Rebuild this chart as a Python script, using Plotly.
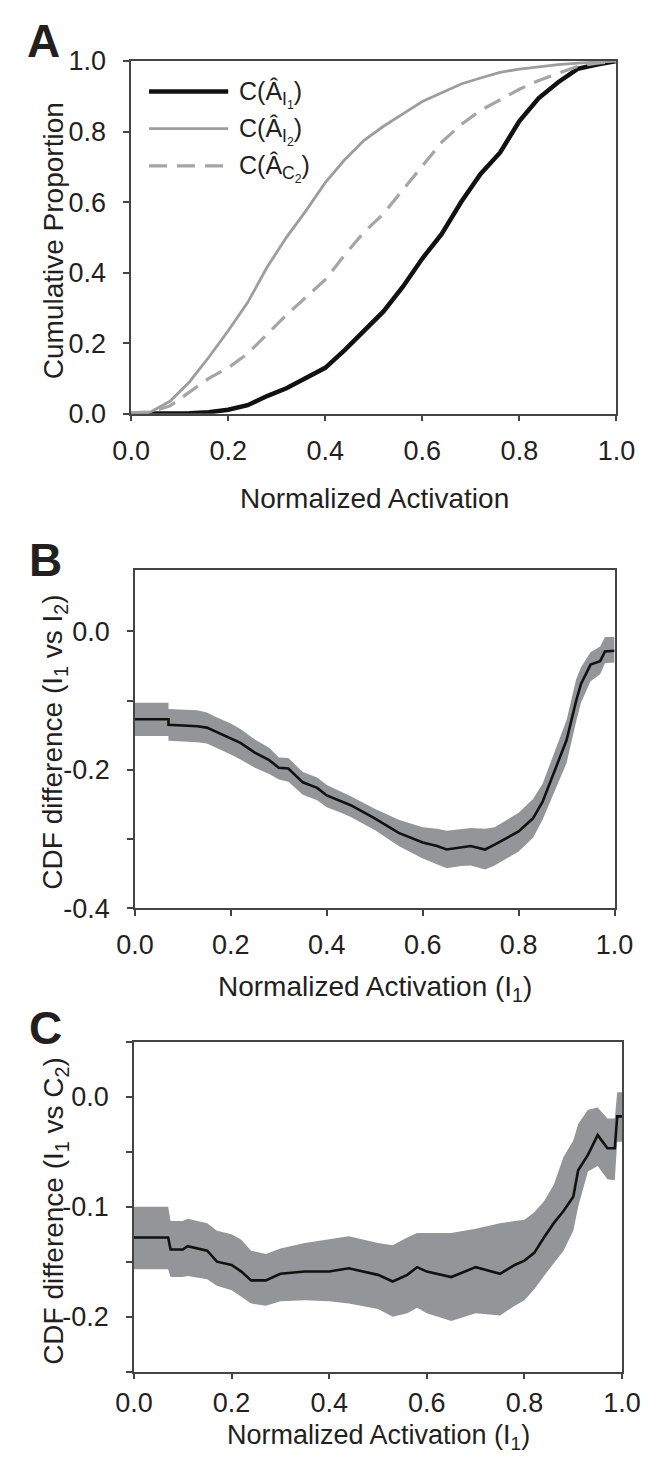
import plotly.graph_objects as go

W, H = 659, 1468

# ---------------- Panel A data (cumulative proportions) ----------------
a_x = [0, 0.04, 0.08, 0.12, 0.16, 0.2, 0.24, 0.28, 0.32, 0.36, 0.4, 0.44, 0.48,
       0.52, 0.56, 0.6, 0.64, 0.68, 0.72, 0.76, 0.8, 0.84, 0.88, 0.92, 0.96, 1.0]
cdf_I1 = [0.0, 0.0, 0.0, 0.001, 0.004, 0.011, 0.024, 0.05, 0.072, 0.1, 0.13, 0.18, 0.235,
          0.29, 0.36, 0.44, 0.51, 0.6, 0.68, 0.74, 0.83, 0.895, 0.94, 0.978, 0.99, 1.0]
cdf_I2 = [0.003, 0.005, 0.035, 0.09, 0.16, 0.235, 0.315, 0.415, 0.5, 0.575, 0.655, 0.72, 0.775,
          0.815, 0.85, 0.885, 0.91, 0.935, 0.952, 0.968, 0.977, 0.984, 0.99, 0.994, 0.997, 1.0]
cdf_C2 = [0.003, 0.004, 0.022, 0.06, 0.1, 0.13, 0.17, 0.225, 0.28, 0.33, 0.38, 0.45, 0.515,
          0.567, 0.635, 0.7, 0.77, 0.82, 0.86, 0.89, 0.92, 0.945, 0.965, 0.985, 0.994, 1.0]
a_names = ["C(Â<sub>I<sub>1</sub></sub>)", "C(Â<sub>I<sub>2</sub></sub>)",
           "C(Â<sub>C<sub>2</sub></sub>)"]

# ---------------- Panel B data (CDF difference I1 vs I2) ----------------
b_x = [0, 0.07, 0.07, 0.1, 0.13, 0.15, 0.17, 0.2, 0.22, 0.25, 0.28, 0.3, 0.32, 0.35, 0.38,
       0.4, 0.43, 0.45, 0.5, 0.55, 0.6, 0.63, 0.65, 0.68, 0.7, 0.73, 0.75, 0.8, 0.83, 0.85,
       0.88, 0.9, 0.92, 0.93, 0.95, 0.97, 0.98, 1.0]
b_mid = [-0.127, -0.127, -0.135, -0.136, -0.137, -0.139, -0.145, -0.154, -0.161, -0.175,
         -0.186, -0.197, -0.198, -0.218, -0.226, -0.237, -0.245, -0.251, -0.27, -0.291,
         -0.305, -0.31, -0.315, -0.312, -0.31, -0.315, -0.308, -0.289, -0.27, -0.246,
         -0.194, -0.157, -0.10, -0.076, -0.048, -0.043, -0.029, -0.028]
b_hi = [-0.103, -0.103, -0.112, -0.113, -0.114, -0.117, -0.124, -0.133, -0.141, -0.156,
        -0.168, -0.182, -0.183, -0.203, -0.211, -0.222, -0.231, -0.238, -0.256, -0.272,
        -0.283, -0.285, -0.288, -0.286, -0.284, -0.285, -0.283, -0.262, -0.242, -0.220,
        -0.165, -0.128, -0.069, -0.052, -0.030, -0.022, -0.008, -0.008]
b_lo = [-0.151, -0.151, -0.158, -0.159, -0.160, -0.162, -0.168, -0.178, -0.185, -0.197,
        -0.206, -0.214, -0.217, -0.236, -0.244, -0.254, -0.262, -0.268, -0.287, -0.31,
        -0.328, -0.336, -0.342, -0.339, -0.338, -0.344, -0.338, -0.318, -0.298, -0.272,
        -0.222, -0.19, -0.13, -0.103, -0.072, -0.062, -0.046, -0.045]

# ---------------- Panel C data (CDF difference I1 vs C2) ----------------
c_x = [0, 0.07, 0.075, 0.1, 0.11, 0.15, 0.17, 0.2, 0.22, 0.24, 0.27, 0.3, 0.35, 0.4, 0.44,
       0.5, 0.53, 0.56, 0.58, 0.6, 0.65, 0.7, 0.75, 0.78, 0.8, 0.82, 0.84, 0.86, 0.88, 0.9,
       0.91, 0.93, 0.95, 0.97, 0.985, 0.99, 1.0]
c_mid = [-0.128, -0.128, -0.139, -0.139, -0.136, -0.140, -0.150, -0.153, -0.159, -0.167,
         -0.167, -0.161, -0.159, -0.159, -0.156, -0.162, -0.168, -0.162, -0.155, -0.159,
         -0.164, -0.155, -0.161, -0.153, -0.149, -0.142, -0.128, -0.115, -0.104, -0.091,
         -0.067, -0.053, -0.035, -0.047, -0.047, -0.018, -0.018]
c_hi = [-0.100, -0.100, -0.113, -0.113, -0.111, -0.115, -0.122, -0.125, -0.13, -0.14,
        -0.143, -0.138, -0.133, -0.130, -0.127, -0.133, -0.135, -0.128, -0.124, -0.124,
        -0.124, -0.12, -0.115, -0.113, -0.112, -0.105, -0.095, -0.08, -0.055, -0.04,
        -0.025, -0.012, -0.01, -0.02, -0.02, 0.004, 0.004]
c_lo = [-0.157, -0.157, -0.164, -0.164, -0.163, -0.166, -0.172, -0.176, -0.182, -0.188,
        -0.19, -0.186, -0.185, -0.186, -0.188, -0.193, -0.2, -0.197, -0.192, -0.197,
        -0.204, -0.197, -0.199, -0.19, -0.185, -0.175, -0.163, -0.152, -0.14, -0.122,
        -0.1, -0.068, -0.063, -0.075, -0.076, -0.041, -0.041]

x_ticks = [0, 0.2, 0.4, 0.6, 0.8, 1.0]
x_labels = ["0.0", "0.2", "0.4", "0.6", "0.8", "1.0"]
a_yticks = [0, 0.2, 0.4, 0.6, 0.8, 1.0]
a_ylabels = ["0.0", "0.2", "0.4", "0.6", "0.8", "1.0"]
b_yticks = [-0.4, -0.2, 0.0]
b_ylabels = ["-0.4", "-0.2", "0.0"]
b_yminor = [-0.3, -0.1]
c_yticks = [-0.2, -0.1, 0.0]
c_ylabels = ["-0.2", "-0.1", "0.0"]
c_yminor = [-0.25, -0.15, -0.05, 0.05]

FONT = "Liberation Sans, Arial, sans-serif"
TXT = "#231f20"
AXC = "#444444"
BAND = "#939598"


def px(x):
    return x / W


def py(y):
    return 1 - y / H


fig = go.Figure()

# Panel A curves
fig.add_trace(go.Scatter(x=a_x, y=cdf_I1, mode="lines", name=a_names[0],
                         line=dict(color="#111111", width=4.5), xaxis="x", yaxis="y"))
fig.add_trace(go.Scatter(x=a_x, y=cdf_I2, mode="lines", name=a_names[1],
                         line=dict(color="#9d9d9d", width=2.8), xaxis="x", yaxis="y"))
fig.add_trace(go.Scatter(x=a_x, y=cdf_C2, mode="lines", name=a_names[2],
                         line=dict(color="#a5a5a5", width=3.2, dash="18px,10px"),
                         xaxis="x", yaxis="y"))

# Panel B band + line
fig.add_trace(go.Scatter(x=b_x, y=b_lo, mode="lines", line=dict(width=0, color=BAND),
                         xaxis="x2", yaxis="y2", hoverinfo="skip"))
fig.add_trace(go.Scatter(x=b_x, y=b_hi, mode="lines", line=dict(width=0, color=BAND),
                         fill="tonexty", fillcolor=BAND, xaxis="x2", yaxis="y2",
                         hoverinfo="skip"))
fig.add_trace(go.Scatter(x=b_x, y=b_mid, mode="lines", line=dict(color="#111111", width=2.6),
                         xaxis="x2", yaxis="y2"))

# Panel C band + line
fig.add_trace(go.Scatter(x=c_x, y=c_lo, mode="lines", line=dict(width=0, color=BAND),
                         xaxis="x3", yaxis="y3", hoverinfo="skip"))
fig.add_trace(go.Scatter(x=c_x, y=c_hi, mode="lines", line=dict(width=0, color=BAND),
                         fill="tonexty", fillcolor=BAND, xaxis="x3", yaxis="y3",
                         hoverinfo="skip"))
fig.add_trace(go.Scatter(x=c_x, y=c_mid, mode="lines", line=dict(color="#111111", width=2.6),
                         xaxis="x3", yaxis="y3"))

tickfont = dict(family=FONT, size=27, color=TXT)
common_ax = dict(showline=True, linecolor=AXC, linewidth=1.5, mirror=True,
                 ticks="outside", ticklen=6, tickcolor=AXC, tickwidth=1.5,
                 showgrid=False, zeroline=False, tickfont=tickfont)
minor_style = dict(ticks="outside", ticklen=6, tickcolor=AXC, tickwidth=1.5, showgrid=False)

fig.update_layout(
    width=W, height=H,
    margin=dict(l=0, r=0, t=0, b=0),
    paper_bgcolor="white", plot_bgcolor="white",
    showlegend=False,
    font=dict(family=FONT, color=TXT),
    xaxis=dict(domain=[px(119), px(634)], range=[0, 1], tickvals=x_ticks,
               ticktext=x_labels, anchor="y", ticklabelstandoff=6, **common_ax),
    yaxis=dict(domain=[py(407), py(47)], range=[0, 1], tickvals=a_yticks,
               ticktext=a_ylabels, anchor="x", ticklabelstandoff=12, **common_ax),
    xaxis2=dict(domain=[px(123), px(632)], range=[0, 1], tickvals=x_ticks,
                ticktext=x_labels, anchor="y2", ticklabelstandoff=5, **common_ax),
    yaxis2=dict(domain=[py(912), py(567)], range=[-0.4, 0.088], tickvals=b_yticks,
                ticktext=b_ylabels, anchor="x2", ticklabelstandoff=12,
                minor=dict(tickvals=b_yminor, **minor_style), **common_ax),
    xaxis3=dict(domain=[px(122), px(640)], range=[0, 1], tickvals=x_ticks,
                ticktext=x_labels, anchor="y3", ticklabelstandoff=0, **common_ax),
    yaxis3=dict(domain=[py(1385), py(1048)], range=[-0.25, 0.05], tickvals=c_yticks,
                ticktext=c_ylabels, anchor="x3", ticklabelstandoff=12,
                minor=dict(tickvals=c_yminor, **minor_style), **common_ax),
)

ann = []


def label(text, x, y, size, bold=False, angle=0, xanchor="center", yanchor="middle"):
    ann.append(dict(text=f"<b>{text}</b>" if bold else text, x=px(x), y=py(y),
                    xref="paper", yref="paper", showarrow=False, textangle=angle,
                    xanchor=xanchor, yanchor=yanchor,
                    font=dict(family=FONT, size=size, color=TXT)))


# panel letters
label("A", 26, 27, 46, bold=True)
label("B", 28, 556, 46, bold=True)
label("C", 28, 1034, 46, bold=True)

# axis titles
label("Cumulative Proportion", 36, 230, 28, angle=-90)
label("Normalized Activation", 377, 494, 28)
label("CDF difference (I<sub>1</sub> vs I<sub>2</sub>)", 38, 742, 28, angle=-90)
label("Normalized Activation (I<sub>1</sub>)", 378, 994, 28)
label("CDF difference (I<sub>1</sub> vs C<sub>2</sub>)", 38, 1221, 28, angle=-90)
label("Normalized Activation (I<sub>1</sub>)", 381, 1471, 27, yanchor="bottom")

# legend (panel A)
legend_rows = [78, 116, 154]
legend_styles = [dict(color="#111111", width=4.5),
                 dict(color="#9d9d9d", width=2.8),
                 dict(color="#a5a5a5", width=3.2, dash="18px,10px")]
shapes = []
for name, yy, st in zip(a_names, legend_rows, legend_styles):
    shapes.append(dict(type="line", xref="paper", yref="paper", x0=px(138), x1=px(222),
                       y0=py(yy), y1=py(yy), line=st))
    label(name, 231, yy + 3, 25, xanchor="left")

fig.update_layout(annotations=ann, shapes=shapes)

fig.write_html("out.html", config={"displayModeBar": False},
               post_script="document.body.style.margin='0px';")
